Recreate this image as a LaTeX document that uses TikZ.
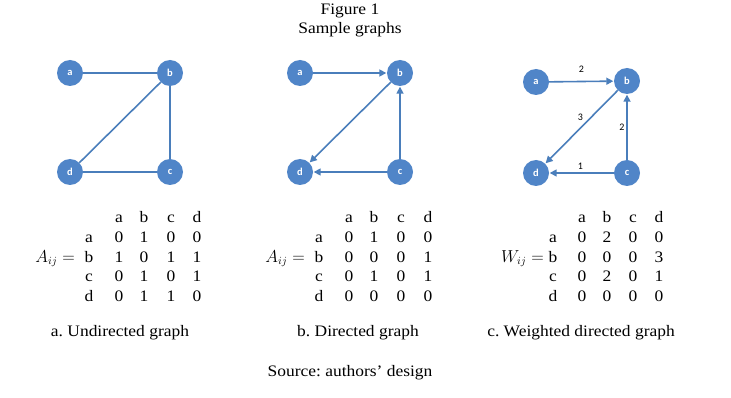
\documentclass[tikz,border=0pt]{standalone}
\usepackage{fontspec}
\setmainfont{Liberation Serif}[FakeStretch=1.09]
\newfontfamily\calibri{Carlito}
\usetikzlibrary{arrows.meta}
\frenchspacing
\definecolor{nodeblue}{HTML}{5085C8}
\definecolor{edgeblue}{HTML}{4A7EBB}
\tikzset{
  vtx/.style={circle, fill=nodeblue, draw=none, minimum size=26pt, inner sep=0pt,
    text=white, font=\calibri\bfseries\fontsize{10.5}{12}\selectfont},
  edg/.style={draw=edgeblue, line width=1.6pt},
  arr/.style={edg, -{Triangle[length=7pt,width=7pt]}, shorten >=0.5pt},
  wt/.style={font=\calibri\fontsize{10}{12}\selectfont, text=black, inner sep=0pt},
  txt/.style={font=\fontsize{16}{19}\selectfont, inner sep=0pt, text=black},
  mtx/.style={font=\fontsize{16}{19}\selectfont, inner sep=0pt, text=black, anchor=base}
}
\newcommand{\mymatrix}[6]{%
  % #1 prefix, #2 x of row labels, #3 col xs list, #4 rows, #5 lhs x, #6 lhs text
  \foreach \cx [count=\j] in {#3} {
    \node[mtx] (#1h\j) at (\cx,223) {\ifcase\j\or a\or b\or c\or d\fi};
    \node[mtx] (#1r\j) at (#2,{223+19.6*\j}) {\ifcase\j\or a\or b\or c\or d\fi};
  }
  \foreach \row [count=\i] in {#4} {
    \foreach \v [count=\j] in \row {
      \node[mtx] (#1m\i\j) at (#1h\j.base |- #1r\i.base) {\v};
    }
  }
  \node[mtx, anchor=base east] (#1lhs) at (#5,262.2) {#6};
}
\begin{document}
\begin{tikzpicture}[x=1pt,y=-1pt]
\useasboundingbox (0,0) rectangle (731,398);
\fill[white] (0,0) rectangle (731,398);

% titles
\node[txt] (t1) at (350,11) {Figure 1};
\node[txt] (t2) at (350,30) {Sample graphs};
\node[txt] (src) at (350,373) {Source: authors’ design};

% graph a
\node[vtx] (a1) at (70,73) {a};
\node[vtx] (b1) at (170,73) {b};
\node[vtx] (d1) at (70,172) {d};
\node[vtx] (c1) at (170,172) {c};
\draw[edg] (a1) -- (b1);
\draw[edg] (b1) -- (d1);
\draw[edg] (b1) -- (c1);
\draw[edg] (d1) -- (c1);

% graph b
\node[vtx] (a2) at (300,73) {a};
\node[vtx] (b2) at (400,73) {b};
\node[vtx] (d2) at (300,172) {d};
\node[vtx] (c2) at (400,172) {c};
\draw[arr] (a2) -- (b2);
\draw[arr] (b2) -- (d2);
\draw[arr] (c2) -- (b2);
\draw[arr] (c2) -- (d2);

% graph c
\node[vtx] (a3) at (536,82) {a};
\node[vtx] (b3) at (627,81) {b};
\node[vtx] (d3) at (536,173) {d};
\node[vtx] (c3) at (627,173) {c};
\draw[arr] (a3) -- node[wt, yshift=12pt] {2} (b3);
\draw[arr] (b3) -- node[wt, xshift=-1pt, yshift=10pt] {3} (d3);
\draw[arr] (c3) -- node[wt, xshift=-5pt, yshift=0pt] {2} (b3);
\draw[arr] (c3) -- node[wt, xshift=-1pt, yshift=7pt] {1} (d3);

% matrices
\mymatrix{A}{89}{119,144,171,197}{{0,1,0,0},{1,0,1,1},{0,1,0,1},{0,1,1,0}}{75}{$A_{ij}=$}
\mymatrix{B}{319}{349,374,401,428}{{0,1,0,0},{0,0,0,1},{0,1,0,1},{0,0,0,0}}{305}{$A_{ij}=$}
\mymatrix{C}{553}{582,607,633,659}{{0,2,0,0},{0,0,0,3},{0,2,0,1},{0,0,0,0}}{544}{$W_{ij}=$}

% captions
\node[txt] (capa) at (120,333) {a. Undirected graph};
\node[txt] (capb) at (358,333) {b. Directed graph};
\node[txt] (capc) at (581,333) {c. Weighted directed graph};
\end{tikzpicture}
\end{document}
